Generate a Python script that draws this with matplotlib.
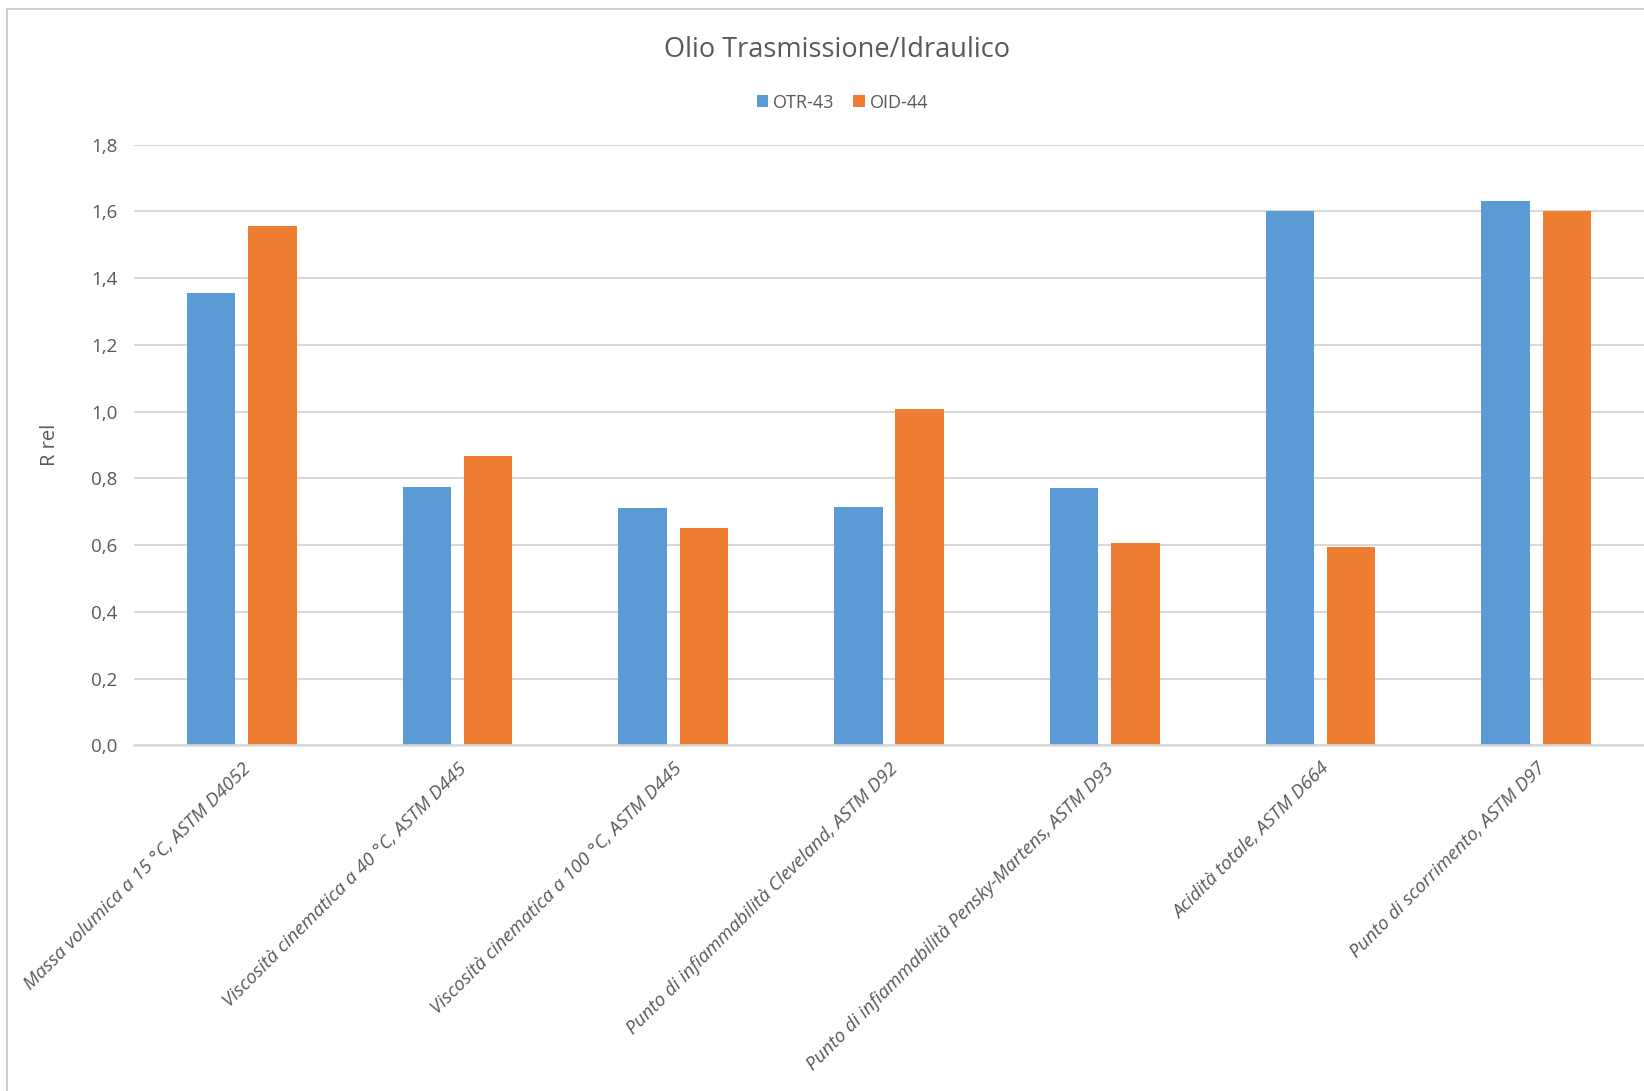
import matplotlib.pyplot as plt
import numpy as np
from matplotlib.patches import Rectangle

categories = [
    "Massa volumica a 15 °C, ASTM D4052",
    "Viscosità cinematica a 40 °C, ASTM D445",
    "Viscosità cinematica a 100 °C, ASTM D445",
    "Punto di infiammabilità Cleveland, ASTM D92",
    "Punto di infiammabilità Pensky-Martens, ASTM D93",
    "Acidità totale, ASTM D664",
    "Punto di scorrimento, ASTM D97",
]
otr_43 = [1.355, 0.773, 0.710, 0.713, 0.770, 1.600, 1.630]
oid_44 = [1.555, 0.867, 0.653, 1.008, 0.606, 0.594, 1.600]
y_ticks = [0.0, 0.2, 0.4, 0.6, 0.8, 1.0, 1.2, 1.4, 1.6, 1.8]

BLUE = "#5B9BD5"
ORANGE = "#ED7D31"
TEXT = "#595959"
GRID = "#D9D9D9"

plt.rcParams['font.family'] = ['Open Sans', 'DejaVu Sans']

fig = plt.figure(figsize=(16.44, 10.91), dpi=100)
ax = fig.add_axes([0.0815, 0.3167, 0.9185, 0.5507])

x = np.arange(len(categories))
w = 0.225
off = 0.142
ax.bar(x - off, otr_43, w, color=BLUE, label="OTR-43", zorder=3)
ax.bar(x + off, oid_44, w, color=ORANGE, label="OID-44", zorder=3)

ax.set_xlim(-0.5, len(categories) - 0.5)
ax.set_ylim(0, 1.8)
ax.set_yticks(y_ticks)
ax.set_yticklabels([f"{v:.1f}".replace(".", ",") for v in y_ticks])
ax.yaxis.grid(True, color=GRID, linewidth=1.5, zorder=0)
ax.set_axisbelow(True)

for s in ["top", "right", "left"]:
    ax.spines[s].set_visible(False)
ax.spines["bottom"].set_color(GRID)
ax.spines["bottom"].set_linewidth(1.8)
ax.spines["bottom"].set_zorder(4)

ax.tick_params(axis="both", length=0, colors=TEXT)
ax.tick_params(axis="y", pad=12, labelsize=13.5)
ax.set_xticks(x)
ax.set_xticklabels(categories, rotation=45, ha="right", rotation_mode="anchor",
                   fontstyle="italic", fontsize=13.6)
ax.tick_params(axis="x", pad=10)

ax.set_ylabel("R rel", color=TEXT, fontsize=14.5, labelpad=22)

fig.text(0.509, 0.954, "Olio Trasmissione/Idraulico", ha="center", va="center",
         fontsize=19.5, color=TEXT)

leg = fig.legend(loc="center", bbox_to_anchor=(0.5125, 0.906), ncol=2, frameon=False,
                 fontsize=13, handlelength=0.65, handleheight=0.65, handletextpad=0.25,
                 columnspacing=1.05, labelcolor=TEXT)

# chart area border (partly cropped in the original)
fig.patches.append(Rectangle((0.0044, -0.1), 1.2, 1.092, transform=fig.transFigure,
                             fill=False, edgecolor="#D0D0D0", linewidth=1.5))

fig.savefig("out.png", dpi=100)
